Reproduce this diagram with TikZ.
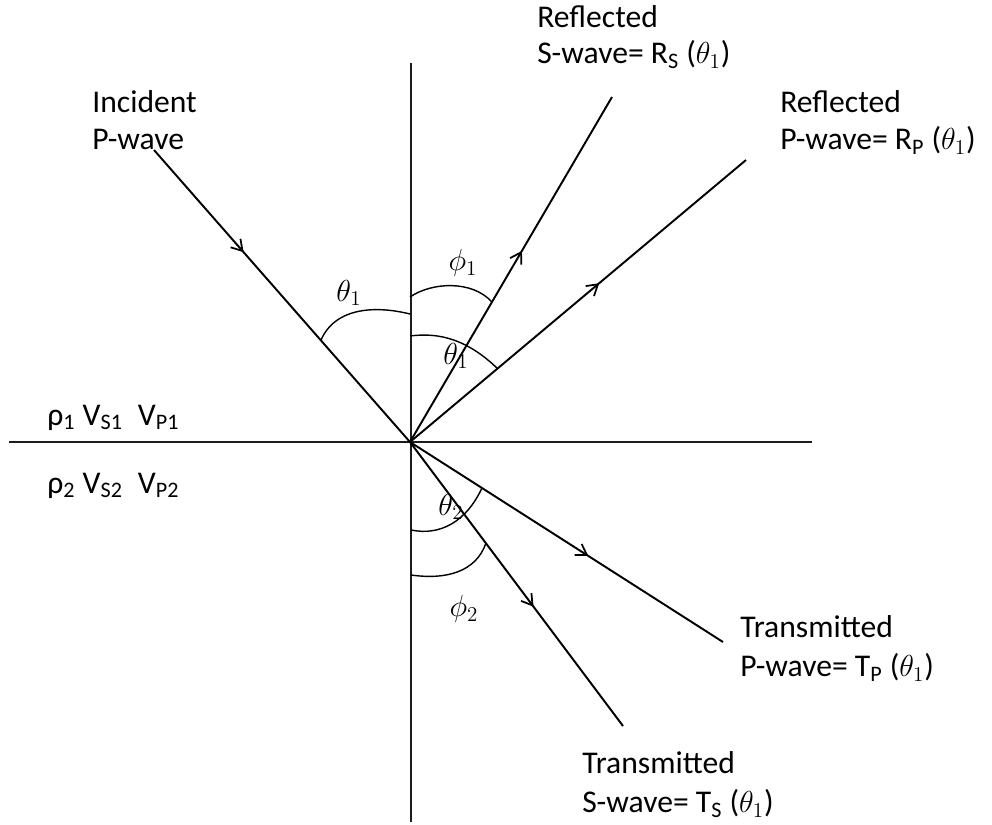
\documentclass[tikz,border=0pt]{standalone}
\usepackage{fontspec}
\setmainfont{Carlito}
\usepackage{xcolor}
\usepackage{tikz}
\usetikzlibrary{positioning, arrows.meta, decorations.markings}
\definecolor{wInk}{HTML}{000000}
\definecolor{wAxis}{HTML}{1C1C1C}
\tikzset{
  wave/.style={wInk, line width=1.1pt, postaction={decorate},
    decoration={markings, mark=at position #1 with {\arrow{Straight Barb[length=2.1mm,width=2.6mm,line width=1pt]}}}},
  wave/.default=0.55,
  axis/.style={wAxis, line width=1.7pt},
  ang/.style={wInk, line width=0.8pt},
  lbl/.style={font=\fontsize{18}{22}\selectfont, text=wInk, inner sep=0pt, anchor=base west},
  sym/.style={font=\fontsize{18}{20}\selectfont, text=wInk, inner sep=0pt}
}

\begin{document}
\begin{tikzpicture}[x=0.02cm, y=-0.02cm]
  \useasboundingbox (0,0) rectangle (992,825);
  \coordinate (O) at (410,442);
  \coordinate (vTop) at (411,63);
  \coordinate (vBot) at (411,822);
  \coordinate (hL) at (9,442);
  \coordinate (hR) at (812,442);
  \coordinate (inc) at (154,150);
  \coordinate (rS) at (612,97);
  \coordinate (rP) at (746,160);
  \coordinate (tP) at (723,642);
  \coordinate (tS) at (623,726);
  \draw[axis] (vTop) -- (vBot);
  \draw[axis] (hL) -- (hR);
  \draw[wave=0.35] (inc) -- (O);
  \foreach \e/\p in {rS/0.554,rP/0.563,tP/0.57,tS/0.58}
    {\draw[wave=\p] (O) -- (\e);}
  \draw[ang] (321,340) .. controls (336,306) and (378,306) .. (410,314);
  \draw[ang] (410,297) .. controls (432,282) and (472,280) .. (492,302);
  \draw[ang] (410,336) .. controls (440,332) and (468,340) .. (498,369);
  \draw[ang] (411,530) .. controls (440,536) and (466,522) .. (482,488);
  \draw[ang] (411,575) .. controls (446,580) and (476,572) .. (486,543);
  \node[sym] (th1L) at (349,293) {$\theta_1$};
  \node[sym] (phi1) at (463,263) {$\phi_1$};
  \node[sym] (th1R) at (456,356) {$\theta_1$};
  \node[sym] (th2) at (451,507) {$\theta_2$};
  \node[sym] (phi2) at (464,609) {$\phi_2$};
  \node[lbl] (incA) at (92,112) {Incident};
  \node[lbl] (incB) at ([yshift=-0.76cm]incA.base west) {P-wave};
  \node[lbl] (rsA) at (537,27) {Reflected};
  \node[lbl] (rsB) at ([yshift=-0.74cm]rsA.base west) {S-wave= R\textsubscript{S} ($\theta_1$)};
  \node[lbl] (rpA) at (780,112) {Reflected};
  \node[lbl] (rpB) at ([yshift=-0.76cm]rpA.base west) {P-wave= R\textsubscript{P} ($\theta_1$)};
  \node[lbl] (tpA) at (740,637) {Transmitted};
  \node[lbl] (tpB) at ([yshift=-0.8cm]tpA.base west) {P-wave= T\textsubscript{P} ($\theta_1$)};
  \node[lbl] (tsA) at (582,773) {Transmitted};
  \node[lbl] (tsB) at ([yshift=-0.8cm]tsA.base west) {S-wave= T\textsubscript{S} ($\theta_1$)};
  \node[lbl] (med1) at (47,425) {ρ\textsubscript{1} V\textsubscript{S1}\hspace{0.25em} V\textsubscript{P1}};
  \node[lbl] (med2) at (47,493) {ρ\textsubscript{2} V\textsubscript{S2}\hspace{0.25em} V\textsubscript{P2}};
\end{tikzpicture}
\end{document}
